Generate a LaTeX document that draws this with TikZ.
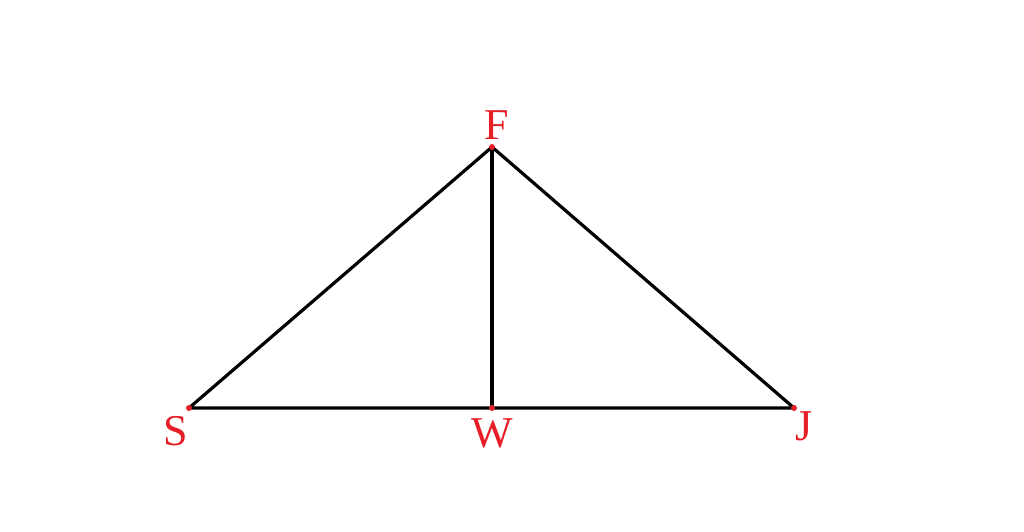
\documentclass[tikz,border=0pt]{standalone}
\usepackage{fontspec}
\setmainfont{Liberation Serif}
\definecolor{lblred}{RGB}{230,30,40}
\begin{document}
\begin{tikzpicture}[x=1pt,y=1pt,
  edge/.style={line width=3.2pt,black},
  lbl/.style={text=lblred,font=\fontsize{44}{44}\selectfont,inner sep=0pt},
  vdot/.style={circle,fill=lblred,inner sep=0pt,minimum size=6pt}]
\useasboundingbox (0,0) rectangle (1024,532);
\coordinate (S) at (189,124);
\coordinate (W) at (492,124);
\coordinate (J) at (794,124);
\coordinate (F) at (492,385);
\draw[edge,line join=round] (S) -- (F) -- (J) -- cycle;
\draw[edge] (F) -- (W);
\foreach \p in {S,W,J,F} \node[vdot] at (\p) {};
\node[lbl] (lF) at (497,407) {F};
\node[lbl] (lS) at (176,101) {S};
\node[lbl] (lW) at (492,99) {W};
\node[lbl] (lJ) at (804,106) {J};
\end{tikzpicture}
\end{document}
